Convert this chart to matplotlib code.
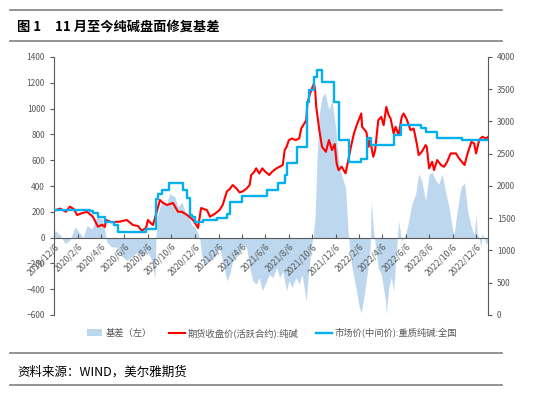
import matplotlib
matplotlib.use('Agg')
import matplotlib.pyplot as plt
import pandas as pd
from matplotlib.lines import Line2D
from matplotlib.patches import Patch

plt.rcParams['font.family'] = ['Noto Sans CJK SC', 'DejaVu Sans']

# 期货收盘价(活跃合约):纯碱  (右轴)
fut_dates = [
    '2019-12-06', '2019-12-22', '2020-01-06', '2020-01-16', '2020-01-27', '2020-02-04', '2020-02-17',
    '2020-03-01', '2020-03-16', '2020-03-29', '2020-04-09', '2020-04-16', '2020-04-19', '2020-05-03',
    '2020-05-24', '2020-06-12', '2020-06-28', '2020-07-11', '2020-07-21', '2020-08-01', '2020-08-06',
    '2020-08-14', '2020-08-19', '2020-08-30', '2020-09-06', '2020-09-14', '2020-09-24', '2020-10-10',
    '2020-10-23', '2020-11-02', '2020-11-16', '2020-12-01', '2020-12-09', '2020-12-14', '2020-12-22',
    '2020-12-30', '2021-01-06', '2021-01-14', '2021-01-27', '2021-02-08', '2021-02-16', '2021-02-27',
    '2021-03-06', '2021-03-14', '2021-03-24', '2021-04-01', '2021-04-09', '2021-04-19', '2021-04-27',
    '2021-05-01', '2021-05-09', '2021-05-14', '2021-05-22', '2021-05-30', '2021-06-07', '2021-06-17',
    '2021-06-26', '2021-07-06', '2021-07-14', '2021-07-22', '2021-07-27', '2021-08-01', '2021-08-07',
    '2021-08-15', '2021-08-25', '2021-09-03', '2021-09-08', '2021-09-16', '2021-09-21', '2021-09-24',
    '2021-09-29', '2021-10-04', '2021-10-11', '2021-10-14', '2021-10-17', '2021-10-25', '2021-11-01',
    '2021-11-11', '2021-11-19', '2021-11-27', '2021-12-04', '2021-12-09', '2021-12-14', '2021-12-22',
    '2022-01-01', '2022-01-10', '2022-01-15', '2022-01-23', '2022-01-30', '2022-02-11', '2022-02-13',
    '2022-02-24', '2022-03-02', '2022-03-06', '2022-03-14', '2022-03-19', '2022-03-27', '2022-04-04',
    '2022-04-10', '2022-04-17', '2022-04-23', '2022-04-28', '2022-05-06', '2022-05-11', '2022-05-19',
    '2022-05-27', '2022-06-01', '2022-06-08', '2022-06-19', '2022-06-27', '2022-07-05', '2022-07-10',
    '2022-07-18', '2022-07-28', '2022-07-31', '2022-08-06', '2022-08-14', '2022-08-19', '2022-08-27',
    '2022-09-06', '2022-09-14', '2022-09-22', '2022-10-01', '2022-10-15', '2022-10-23', '2022-11-06',
    '2022-11-14', '2022-11-24', '2022-12-01', '2022-12-06', '2022-12-14', '2022-12-22', '2023-01-01',
    '2023-01-06']
fut_close = [
    1617, 1650, 1600, 1680, 1640, 1550, 1580,
    1600, 1524, 1370, 1400, 1364, 1473, 1440,
    1447, 1473, 1395, 1380, 1307, 1350, 1473,
    1420, 1395, 1628, 1783, 1740, 1705, 1736,
    1601, 1600, 1550, 1473, 1400, 1349, 1659,
    1640, 1628, 1524, 1570, 1628, 1705, 1916,
    1950, 2015, 1960, 1900, 1916, 1960, 2015,
    2170, 2221, 2274, 2195, 2274, 2220, 2170,
    2230, 2274, 2300, 2325, 2557, 2608, 2711,
    2737, 2711, 2740, 2892, 2969, 3021, 3279,
    3400, 3485, 3588, 3500, 3227, 2866, 2608,
    2530, 2711, 2557, 2650, 2350, 2247, 2300,
    2196, 2453, 2608, 2815, 2943, 3124, 2918,
    2840, 2608, 2711, 2453, 2557, 3021, 3072,
    2943, 3227, 3098, 3047, 2815, 2918, 2789,
    3072, 3124, 3047, 2866, 2892, 2660, 2479,
    2530, 2634, 2608, 2274, 2376, 2247, 2402,
    2325, 2298, 2376, 2505, 2505, 2427, 2325,
    2505, 2685, 2660, 2505, 2711, 2763, 2737,
    2760]

# 市场价(中间价):重质纯碱:全国  (右轴, 阶梯)
spot_dates = [
    '2019-12-06', '2020-03-08', '2020-03-16', '2020-03-29', '2020-04-16', '2020-05-11', '2020-05-19',
    '2020-08-01', '2020-08-27', '2020-09-01', '2020-09-11', '2020-09-29', '2020-11-06', '2020-11-16',
    '2020-11-24', '2020-11-29', '2020-12-06', '2020-12-27', '2021-02-01', '2021-02-27', '2021-03-06',
    '2021-04-06', '2021-06-10', '2021-07-09', '2021-07-27', '2021-08-03', '2021-08-29', '2021-09-24',
    '2021-09-29', '2021-10-11', '2021-10-19', '2021-11-01', '2021-12-01', '2021-12-14', '2022-01-10',
    '2022-02-11', '2022-02-26', '2022-03-08', '2022-05-06', '2022-05-24', '2022-07-15', '2022-07-28',
    '2022-08-27', '2022-10-31', '2023-01-06']
spot_price = [
    1630, 1610, 1586, 1524, 1447, 1395, 1280,
    1330, 1800, 1880, 1938, 2040, 1938, 1808,
    1550, 1520, 1447, 1473, 1498, 1566, 1757,
    1844, 1938, 2040, 2170, 2350, 2608, 3304,
    3485, 3691, 3794, 3614, 3304, 2711, 2376,
    2413, 2737, 2643, 2798, 2943, 2892, 2840,
    2737, 2711, 2711]

# 基差（左轴）
basis_dates = [
    '2019-12-06', '2019-12-09', '2019-12-22', '2020-01-04', '2020-01-16', '2020-01-30', '2020-02-07',
    '2020-02-20', '2020-03-01', '2020-03-13', '2020-03-26', '2020-04-09', '2020-04-16', '2020-04-21',
    '2020-05-03', '2020-05-16', '2020-05-29', '2020-06-12', '2020-06-25', '2020-07-09', '2020-07-21',
    '2020-08-03', '2020-08-16', '2020-08-24', '2020-08-27', '2020-08-30', '2020-09-06', '2020-09-14',
    '2020-09-24', '2020-10-01', '2020-10-15', '2020-10-23', '2020-11-02', '2020-11-11', '2020-11-19',
    '2020-11-29', '2020-12-06', '2020-12-14', '2020-12-19', '2020-12-24', '2021-01-01', '2021-01-14',
    '2021-01-27', '2021-02-08', '2021-02-16', '2021-02-27', '2021-03-06', '2021-03-14', '2021-03-24',
    '2021-04-01', '2021-04-09', '2021-04-19', '2021-04-27', '2021-05-05', '2021-05-14', '2021-05-22',
    '2021-05-30', '2021-06-10', '2021-06-17', '2021-06-26', '2021-07-06', '2021-07-14', '2021-07-22',
    '2021-08-01', '2021-08-07', '2021-08-15', '2021-08-25', '2021-09-03', '2021-09-10', '2021-09-21',
    '2021-09-26', '2021-10-04', '2021-10-09', '2021-10-14', '2021-10-19', '2021-10-25', '2021-11-01',
    '2021-11-09', '2021-11-19', '2021-11-27', '2021-12-06', '2021-12-14', '2021-12-22', '2022-01-01',
    '2022-01-07', '2022-01-12', '2022-01-18', '2022-01-28', '2022-02-06', '2022-02-11', '2022-02-19',
    '2022-02-26', '2022-03-06', '2022-03-09', '2022-03-14', '2022-03-19', '2022-03-27', '2022-04-04',
    '2022-04-15', '2022-04-17', '2022-04-23', '2022-04-30', '2022-05-06', '2022-05-14', '2022-05-19',
    '2022-05-27', '2022-06-06', '2022-06-14', '2022-06-22', '2022-07-02', '2022-07-10', '2022-07-18',
    '2022-07-28', '2022-08-06', '2022-08-14', '2022-08-24', '2022-08-31', '2022-09-09', '2022-09-19',
    '2022-09-27', '2022-10-05', '2022-10-10', '2022-10-18', '2022-10-28', '2022-11-06', '2022-11-14',
    '2022-11-24', '2022-12-01', '2022-12-06', '2022-12-09', '2022-12-14', '2022-12-19', '2022-12-22',
    '2023-01-01', '2023-01-06']
basis = [
    20, 57, 20, -47, -20, 82, 50,
    0, 95, 65, 160, 145, 57, -35,
    -73, -73, -140, -176, -150, -110, -150,
    -100, -176, -320, 0, 160, 238, 290,
    265, 342, 316, 238, 275, 200, 160,
    95, 82, 30, -20, -150, -205, -180,
    -150, -75, -180, -335, -285, -180, -150,
    -115, -60, -75, -230, -335, -360, -310,
    -412, -335, -285, -310, -230, -310, -260,
    -412, -335, -385, -310, -360, -285, -490,
    -310, -75, 15, 160, 600, 960, 1090,
    1120, 990, 1065, 860, 600, 480, 390,
    78, -103, -233, -389, -545, -583, -440,
    -285, -78, 285, 78, -50, -233, -285,
    -492, -595, -390, -310, -415, -78, 130,
    -25, 25, 130, 260, 337, 493, 440,
    285, 493, 505, 440, 415, 493, 337,
    233, 78, 25, 207, 390, 425, 207,
    78, 25, 170, 25, 0, -78, 40,
    -50, -30]

tick_labels = ['2019/12/6', '2020/2/6', '2020/4/6', '2020/6/6', '2020/8/6', '2020/10/6', '2020/12/6',
               '2021/2/6', '2021/4/6', '2021/6/6', '2021/8/6', '2021/10/6', '2021/12/6', '2022/2/6',
               '2022/4/6', '2022/6/6', '2022/8/6', '2022/10/6', '2022/12/6']

grey = '#595959'
fig = plt.figure(figsize=(5.5, 3.96), dpi=100)
ax = fig.add_axes([54 / 550, 1 - 315 / 396, 434 / 550, 258 / 396])
ax2 = ax.twinx()

ax.fill_between(pd.to_datetime(basis_dates), 0, basis, color='#BDD7EE', lw=0)
ax2.plot(pd.to_datetime(fut_dates), fut_close, color='#FF0000', lw=1.5)
ax2.plot(pd.to_datetime(spot_dates), spot_price, color='#00B0F0', lw=1.7, drawstyle='steps-post')

# spines first: moving a spine resets the ticks
for a in (ax, ax2):
    a.spines['top'].set_visible(False)
    for s in a.spines.values():
        s.set_color(grey)
        s.set_linewidth(0.8)
ax.spines['right'].set_visible(False)
ax2.spines['left'].set_visible(False)
ax2.spines['bottom'].set_visible(False)
ax.spines['bottom'].set_position(('data', 0))

ax.set_xlim(pd.Timestamp('2019-12-06'), pd.Timestamp('2023-01-06'))
ax.set_ylim(-600, 1400)
ax.set_yticks(range(-600, 1401, 200))
ax2.set_ylim(0, 4000)
ax2.set_yticks(range(0, 4001, 500))

ticks = pd.to_datetime(tick_labels, format='%Y/%m/%d')
ax.set_xticks(ticks)
ax.set_xticklabels(tick_labels)

ax.tick_params(axis='y', direction='out', length=3, width=0.8, colors=grey, labelsize=6)
ax2.tick_params(axis='y', direction='out', length=3, width=0.8, colors=grey, labelsize=6)
ax.tick_params(axis='x', direction='in', length=3, width=0.8, colors=grey, labelsize=6.3, pad=3)
for lab in ax.get_xticklabels():
    lab.set_rotation(45)
    lab.set_ha('right')
    lab.set_va('top')
    lab.set_rotation_mode('anchor')

handles = [Patch(facecolor='#BDD7EE', edgecolor='none'),
           Line2D([], [], color='#FF0000', lw=1.5),
           Line2D([], [], color='#00B0F0', lw=1.7)]
labels = ['基差（左）', '期货收盘价(活跃合约):纯碱', '市场价(中间价):重质纯碱:全国']
leg = fig.legend(handles, labels, loc='center', bbox_to_anchor=(272 / 550, 1 - 333 / 396), ncol=3,
                 frameon=False, fontsize=6.7, handlelength=1.7, handleheight=0.8, columnspacing=1.9,
                 handletextpad=0.3)
for t in leg.get_texts():
    t.set_color(grey)

for yy in (9.5, 41, 353, 385):
    fig.add_artist(Line2D([10 / 550, 502 / 550], [1 - yy / 396] * 2, transform=fig.transFigure,
                          color='#808080', lw=1.2))

fig.text(17 / 550, 1 - 27 / 396, '图 1', fontsize=9.5, fontweight='bold', va='center', color='black')
fig.text(55 / 550, 1 - 27 / 396, '11 月至今纯碱盘面修复基差', fontsize=9.5, fontweight='bold',
         va='center', color='black')
fig.text(17 / 550, 1 - 372 / 396, '资料来源：WIND，美尔雅期货', fontsize=9, va='center', color='black')

fig.savefig('out.png', dpi=100)
